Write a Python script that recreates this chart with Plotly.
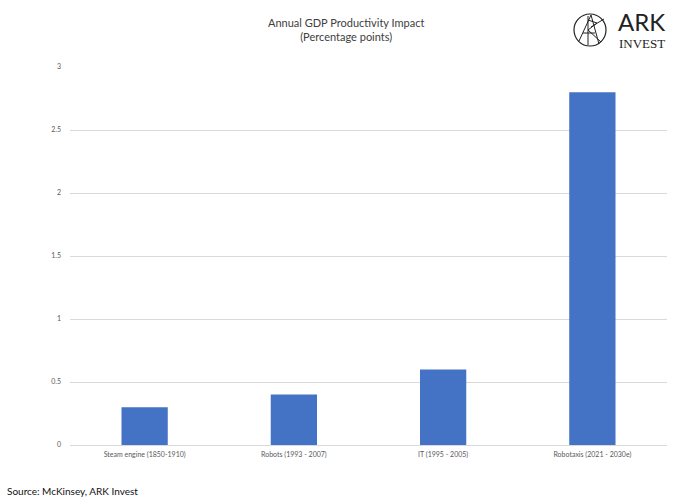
import plotly.graph_objects as go

categories = ["Steam engine (1850-1910)", "Robots (1993 - 2007)", "IT (1995 - 2005)", "Robotaxis (2021 - 2030e)"]
values = [0.3, 0.4, 0.6, 2.8]
tick_vals = [0, 0.5, 1, 1.5, 2, 2.5, 3]
tick_text = ["0", "0.5", "1", "1.5", "2", "2.5", "3"]

L, R, T, B = 70, 667, 67, 445
W, H = 680, 504


def px(x):
    return (x - L) / (R - L)


def py(y):
    return (B - y) / (B - T)


fig = go.Figure()
fig.add_trace(go.Bar(x=categories, y=values, marker=dict(color="#4472C4", line=dict(width=0))))

shapes = [
    dict(type="circle", xref="paper", yref="paper", x0=px(574), x1=px(606), y0=py(46), y1=py(14),
         line=dict(color="#222", width=1.2)),
]
logo_lines = [
    ((579, 41), (591, 15)),
    ((591, 15), (599, 44)),
    ((583, 33), (595, 33)),
    ((588, 16), (588, 45)),
    ((588, 20), (597, 23)),
    ((597, 23), (588, 30)),
    ((588, 30), (601, 42)),
    ((591, 27), (604, 19)),
]
for (a, b) in logo_lines:
    shapes.append(dict(type="line", xref="paper", yref="paper", x0=px(a[0]), y0=py(a[1]),
                       x1=px(b[0]), y1=py(b[1]), line=dict(color="#222", width=1)))

annotations = [
    dict(text="Annual GDP Productivity Impact<br>(Percentage points)", xref="paper", yref="paper",
         x=px(346), y=py(30), showarrow=False, font=dict(family="Lato", size=11, color="#404040"),
         xanchor="center", yanchor="middle", align="center"),
    dict(text="ARK", xref="paper", yref="paper", x=px(616), y=py(22), showarrow=False,
         font=dict(family="Lato", size=24, color="#222"), xanchor="left", yanchor="middle"),
    dict(text="INVEST", xref="paper", yref="paper", x=px(617), y=py(44), showarrow=False,
         font=dict(family="Liberation Serif", size=13, color="#222"), xanchor="left", yanchor="middle"),
    dict(text="Source: McKinsey, ARK Invest", xref="paper", yref="paper", x=px(5), y=py(491),
         showarrow=False, font=dict(family="Lato", size=10, color="#111"), xanchor="left", yanchor="middle"),
]

fig.update_layout(
    width=W, height=H,
    margin=dict(l=L, r=W - R, t=T, b=H - B),
    paper_bgcolor="white", plot_bgcolor="white",
    bargap=0.69,
    showlegend=False,
    shapes=shapes,
    annotations=annotations,
    font=dict(family="Lato", color="#595959"),
)
fig.update_xaxes(tickfont=dict(size=7, color="#595959"), showgrid=False, showline=False, ticks="",
                 ticklabelstandoff=4)
fig.update_yaxes(range=[0, 3], tickvals=tick_vals, ticktext=tick_text, showgrid=True, gridcolor="#d9d9d9",
                 gridwidth=1, zeroline=True, zerolinecolor="#d9d9d9", zerolinewidth=1,
                 tickfont=dict(size=7, color="#595959"), ticks="", ticklabelstandoff=8)

fig.write_html("out.html", config={"displayModeBar": False},
               post_script="document.body.style.margin='0';document.body.style.padding='0';")
